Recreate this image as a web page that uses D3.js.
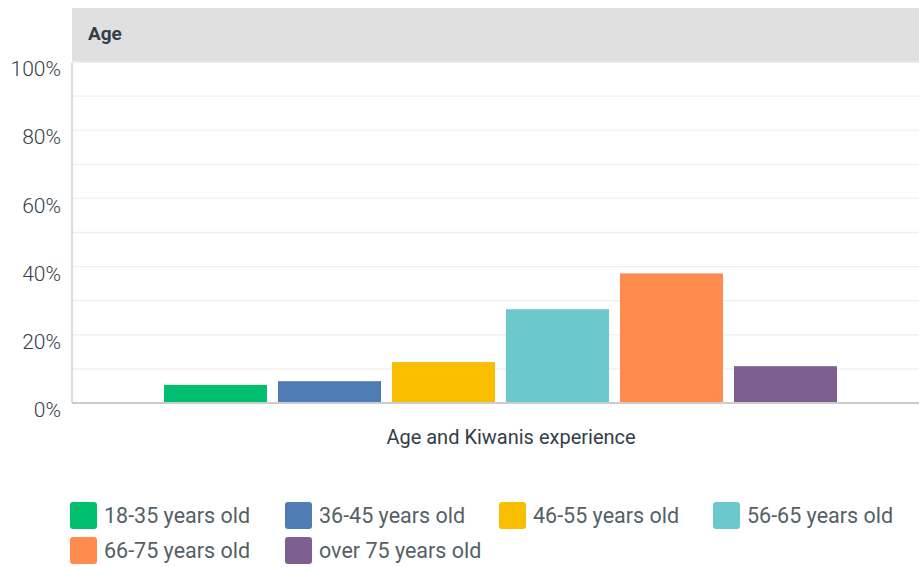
<!DOCTYPE html>
<html><head><meta charset="utf-8">
<script src="https://cdn.jsdelivr.net/npm/d3@7"></script>
<style>body{margin:0;background:#fff;}svg{display:block;font-family:Roboto, "Noto Sans", sans-serif;}</style>
</head><body><svg id="c" width="919" height="567"></svg>
<script>
const categories = ["Age and Kiwanis experience"];
const series = ["18-35 years old","36-45 years old","46-55 years old","56-65 years old","66-75 years old","over 75 years old"];
const values = [5.3, 6.4, 12.0, 27.5, 38.0, 10.8];
const colors = ["#00bf6f","#507cb6","#f9be00","#6bc8cd","#ff8b4f","#7f5f90"];
const yTicks = [0,20,40,60,80,100];
const gridTicks = [0,10,20,30,40,50,60,70,80,90,100];
const title = "Age";

(function(){
const svg = d3.select("#c");
const pl = 72, pr = 929, pt = 62, pb = 403;

svg.append("rect").attr("x",pl).attr("y",8).attr("width",919-pl).attr("height",55).attr("fill","#e0e0e0");
svg.append("text").attr("x",88).attr("y",40).attr("font-size",19).attr("font-weight","bold").attr("fill","#333e48").text(title);

const y = d3.scaleLinear().domain([0,100]).range([pb, pt]);
const x0 = d3.scaleBand().domain(categories).range([pl, pr]);
const x1 = d3.scaleBand().domain(series).range([164 - x0(categories[0]), 837 - x0(categories[0])]).paddingInner(0.0965).paddingOuter(0);

svg.append("g").selectAll("line").data(gridTicks.filter(d=>d>0)).join("line")
  .attr("x1",pl).attr("x2",919).attr("y1",d=>y(d)).attr("y2",d=>y(d))
  .attr("stroke","#efefef").attr("stroke-width",1.3);

const yAxis = d3.axisLeft(y).tickValues(yTicks).tickFormat(d=>d+"%").tickSize(0).tickPadding(11);
const ya = svg.append("g").attr("transform",`translate(${pl},0)`).call(yAxis);
ya.select(".domain").remove();
ya.selectAll("text").attr("font-size",21).attr("fill","#333e48").attr("font-family","Roboto, sans-serif").attr("font-weight",300).attr("dy","0.65em");

svg.append("line").attr("x1",pl).attr("x2",pl).attr("y1",63).attr("y2",pb).attr("stroke","#d0d0d0").attr("stroke-width",1.5);

const g = svg.append("g");
categories.forEach(c=>{
  g.selectAll("rect.bar").data(series).join("rect").attr("class","bar")
   .attr("x",s=>x0(c)+x1(s)).attr("width",x1.bandwidth())
   .attr("y",(s,i)=>y(values[i])).attr("height",(s,i)=>pb - y(values[i]))
   .attr("fill",(s,i)=>colors[i]);
});
svg.append("line").attr("x1",pl).attr("x2",919).attr("y1",pb).attr("y2",pb).attr("stroke","#cccccc").attr("stroke-width",2);

svg.append("text").attr("x",511).attr("y",444).attr("text-anchor","middle").attr("font-size",20).attr("fill","#333e48").text(categories[0]);

const legPos = [[70,502],[285,502],[499,502],[713,502],[70,537],[285,537]];
const lg = svg.append("g").selectAll("g").data(series).join("g").attr("transform",(d,i)=>`translate(${legPos[i][0]},${legPos[i][1]})`);
lg.append("rect").attr("width",27).attr("height",27).attr("rx",3).attr("fill",(d,i)=>colors[i]);
lg.append("text").attr("x",34).attr("y",21).attr("font-size",21.5).attr("fill","#555f66").text(d=>d);
})();
</script></body></html>
